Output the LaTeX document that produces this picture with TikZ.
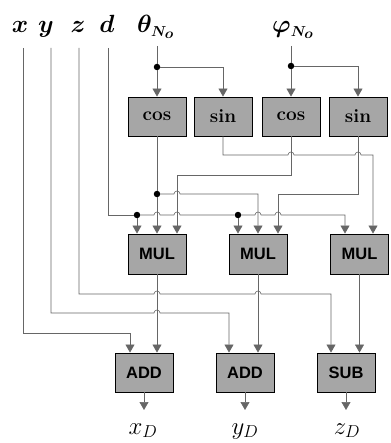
\documentclass[tikz,border=0pt]{standalone}
\usepackage{fontspec}
\usepackage{bm}
\newfontfamily\boxsans{Liberation Sans}
\usetikzlibrary{arrows.meta}
\begin{document}
\begin{tikzpicture}[x=1pt,y=-1pt,
  wire/.style={draw=black!60,line width=0.6pt},
  arr/.style={-{Triangle[width=9pt,length=8pt]}},
  fbox/.style={draw=black,line width=0.9pt,fill=black!35,minimum width=58pt,minimum height=39pt,inner sep=0pt},
  trig/.style={fbox,font=\fontsize{19}{21}\selectfont\bfseries},
  op/.style={fbox,font=\boxsans\fontsize{16.5}{18}\selectfont\bfseries},
  lab/.style={anchor=base,inner sep=0pt,font=\fontsize{24}{26}\selectfont},
  jdot/.style={circle,fill=black,inner sep=0pt,minimum size=6.5pt}]
\useasboundingbox (0,0) rectangle (390,443);

% input labels
\node[lab] (lx) at (20,33) {$\bm{x}$};
\node[lab] (ly) at (46,33) {$\bm{y}$};
\node[lab] (lz) at (78,33) {$\bm{z}$};
\node[lab] (ld) at (107,33) {$\bm{d}$};
\node[lab,anchor=base west,font=\fontsize{27}{29}\selectfont] (lth) at (137,33) {$\bm{\theta}_{\scriptscriptstyle\bm{N_o}}$};
\node[lab,anchor=base west,font=\fontsize{27}{29}\selectfont] (lph) at (272,33) {$\bm{\varphi}_{\scriptscriptstyle\bm{N_o}}$};

% wire starts
\coordinate (xs) at (23,48);
\coordinate (ys) at (51,48);
\coordinate (zs) at (79,48);
\coordinate (ds) at (108,48);
\coordinate (ths) at (157,46);
\coordinate (phs) at (291,46);

% function boxes
\node[trig] (cos1) at (157,116.5) {cos};
\node[trig] (sin1) at (223,116.5) {sin};
\node[trig] (cos2) at (291,116.5) {cos};
\node[trig] (sin2) at (358,116.5) {sin};

\node[op,minimum height=40pt] (mul1) at (157,254) {MUL};
\node[op,minimum height=40pt] (mul2) at (258,254) {MUL};
\node[op,minimum height=40pt] (mul3) at (359.5,254) {MUL};

\node[op] (add1) at (144,372.5) {ADD};
\node[op] (add2) at (245,372.5) {ADD};
\node[op] (sub) at (346,372.5) {SUB};

% junction dots
\node[jdot] (jth) at (157,67) {};
\node[jdot] (jph) at (291,66) {};
\node[jdot] (jc) at (157,194) {};
\node[jdot] (jd1) at (137,215) {};
\node[jdot] (jd2) at (238,215) {};

% theta / phi distribution
\draw[wire] (ths) -- (jth);
\draw[wire,arr] (jth) -- (cos1.north);
\draw[wire,arr] (jth) -| (sin1.north);
\draw[wire] (phs) -- (jph);
\draw[wire,arr] (jph) -- (cos2.north);
\draw[wire,arr] (jph) -| (sin2.north);

% cos theta
\draw[wire] (cos1.south) -- (jc);
\draw[wire,arr] (jc) -- (mul1.north);
\draw[wire,arr] (jc) -- (174,194) arc[start angle=180,end angle=0,radius=3pt]
  -- (258,194) -- (mul2.north);

% sin theta
\draw[wire,arr] (sin1.south) -- (223,155) -- (288,155) arc[start angle=180,end angle=0,radius=3pt]
  -- (355,155) arc[start angle=180,end angle=0,radius=3pt]
  -- (373,155) -- ([xshift=13.5pt]mul3.north);

% cos phi
\draw[wire,arr] (cos2.south) -- (291,175) -- (177,175) -- ([xshift=20pt]mul1.north);

% sin phi
\draw[wire,arr] (sin2.south) -- (358,194) -- (278,194) -- ([xshift=20pt]mul2.north);

% d
\draw[wire] (ds) -- (108,215) -- (jd1);
\draw[wire] (jd1) -- (154,215) arc[start angle=180,end angle=0,radius=3pt]
  -- (174,215) arc[start angle=180,end angle=0,radius=3pt]
  -- (jd2);
\draw[wire,arr] (jd2) -- (255,215) arc[start angle=180,end angle=0,radius=3pt]
  -- (275,215) arc[start angle=180,end angle=0,radius=3pt]
  -- (345,215) -- ([xshift=-14.5pt]mul3.north);
\draw[wire,arr] (jd1) -- ([xshift=-20pt]mul1.north);
\draw[wire,arr] (jd2) -- ([xshift=-20pt]mul2.north);

% products to adders
\draw[wire,arr] (mul1.south) -- (mul1.south |- add1.north);
\draw[wire,arr] (mul2.south) -- (mul2.south |- add2.north);
\draw[wire,arr] (mul3.south) -- (mul3.south |- sub.north);

% x, y, z
\draw[wire,arr] (xs) -- (23,333) -- (130,333) -- ([xshift=-14pt]add1.north);
\draw[wire,arr] (ys) -- (51,313) -- (154,313) arc[start angle=180,end angle=0,radius=3pt]
  -- (229,313) -- ([xshift=-16pt]add2.north);
\draw[wire,arr] (zs) -- (79,294) -- (154,294) arc[start angle=180,end angle=0,radius=3pt]
  -- (255,294) arc[start angle=180,end angle=0,radius=3pt]
  -- (331,294) -- ([xshift=-15pt]sub.north);

% outputs
\coordinate (ox) at (144,410);
\coordinate (oy) at (245,410);
\coordinate (oz) at (346,410);
\draw[wire,arr] (add1.south) -- (ox);
\draw[wire,arr] (add2.south) -- (oy);
\draw[wire,arr] (sub.south) -- (oz);
\node[lab] (lxd) at (143,434) {$x_D$};
\node[lab] (lyd) at (245,434) {$y_D$};
\node[lab] (lzd) at (347,434) {$z_D$};
\end{tikzpicture}
\end{document}
